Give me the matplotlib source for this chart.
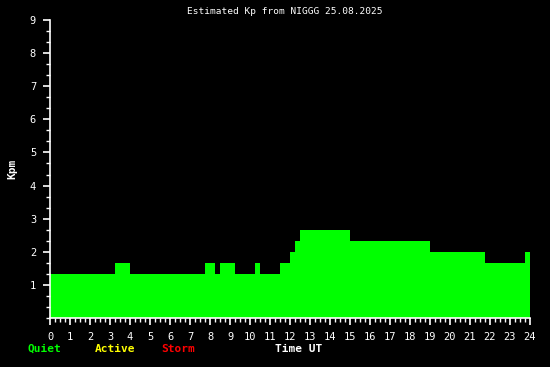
import numpy as np
import matplotlib
matplotlib.use('Agg')
import matplotlib.pyplot as plt
from matplotlib.ticker import MultipleLocator

# step edges (hours UT) and Kp value in each interval
edges = [0, 3.25, 4.0, 7.75, 8.25, 8.5, 9.25, 10.25, 10.5, 11.5, 12.0, 12.25, 12.5,
         15.0, 19.0, 21.75, 23.75, 24.0]
kp = [1.33, 1.67, 1.33, 1.67, 1.33, 1.67, 1.33, 1.67, 1.33, 1.67, 2.0, 2.33, 2.67,
      2.33, 2.0, 1.67, 2.0]

title = 'Estimated Kp from NIGGG 25.08.2025'
legend_items = [('Quiet', '#00ff00'), ('Active', '#ffff00'), ('Storm', '#ff0000')]

plt.rcParams['font.family'] = 'DejaVu Sans Mono'

fig = plt.figure(figsize=(5.5, 3.67), dpi=100, facecolor='black')
ax = fig.add_axes([50 / 550, 49 / 367, 480 / 550, 298 / 367], facecolor='black')

ax.stairs(kp, edges, fill=True, color='#00ff00', baseline=0, lw=0)

ax.set_xlim(0, 24)
ax.set_ylim(0, 9)
ax.xaxis.set_major_locator(MultipleLocator(1))
ax.xaxis.set_minor_locator(MultipleLocator(0.25))
ax.yaxis.set_minor_locator(MultipleLocator(1 / 3))
ax.set_yticks(range(1, 10))
ax.set_yticklabels([str(i) for i in range(1, 10)])

for s in ['top', 'right']:
    ax.spines[s].set_visible(False)
for s in ['left', 'bottom']:
    ax.spines[s].set_color('white')
    ax.spines[s].set_linewidth(1.2)

ax.tick_params(which='major', colors='white', length=5, width=1.2, labelsize=7.5, pad=5)
ax.tick_params(which='minor', colors='white', length=3, width=1)

ax.set_ylabel('Kpm', color='white', fontsize=8, fontweight='bold', labelpad=9)

fig.text(284.5 / 550, 355 / 367, title, color='white', fontsize=6.8, ha='center', va='center')

xs = [28, 95, 161]
for (lab, col), x in zip(legend_items, xs):
    fig.text(x / 550, 18 / 367, lab, color=col, fontsize=8, fontweight='bold', va='center')
fig.text(275 / 550, 18 / 367, 'Time UT', color='white', fontsize=8, fontweight='bold', va='center')

fig.savefig('out.png', dpi=100, facecolor='black')
